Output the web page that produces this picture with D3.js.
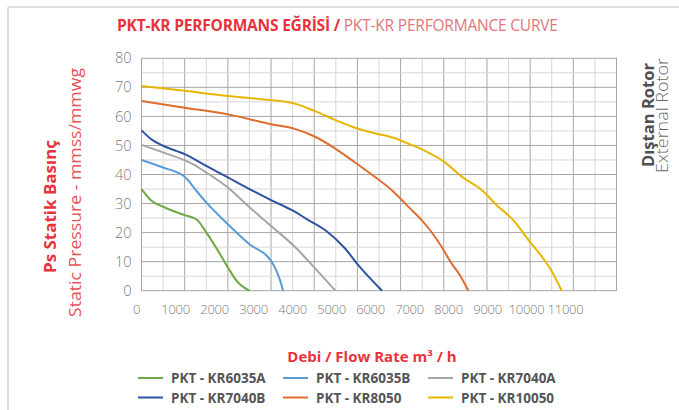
<!DOCTYPE html>
<html>
<head>
<meta charset="utf-8">
<script src="https://cdn.jsdelivr.net/npm/d3@7"></script>
<style>
  body { margin: 0; background: #fff; }
  text { font-family: "Open Sans", "Noto Sans", sans-serif; }
</style>
</head>
<body>
<div id="chart"></div>
<script>
// flow rate (m3/h) and static pressure (mmwg)
const series = ['PKT - KR6035A', 'PKT - KR6035B', 'PKT - KR7040A', 'PKT - KR7040B', 'PKT - KR8050', 'PKT - KR10050'];
const colors = ['#6fa845', '#5b9bd5', '#a5a5a5', '#2f53a0', '#de6d2e', '#e8b500'];

const flowA = [0, 230, 500, 1000, 1270, 1500, 1770, 2000, 2230, 2500];
const pressA = [35, 31, 28.9, 26, 24.6, 20.1, 13.8, 8, 2.9, 0];

const flowB = [0, 500, 1000, 1270, 1500, 2000, 2500, 3000, 3120, 3200, 3280];
const pressB = [45, 42.4, 39.2, 34.4, 30.4, 22.9, 16, 10.3, 7, 4, 0];

const flowC = [0, 500, 1000, 1190, 1500, 2000, 2500, 3000, 3550, 4020, 4490];
const pressC = [50.2, 47.6, 44.9, 43.6, 40.7, 35.5, 28.7, 22.3, 15.1, 7.7, 0];

const flowD = [0, 230, 500, 1000, 1500, 2000, 2500, 3000, 3550, 3820, 4250, 4710, 5020, 5570];
const pressD = [55.2, 52.1, 49.9, 47, 43, 39, 35, 31.2, 27.2, 24.7, 20.9, 14.6, 8.8, 0];

const flowE = [0, 1000, 2000, 3000, 3550, 4020, 4480, 4940, 5400, 5790, 6200, 6450, 6680, 6950, 7180, 7370, 7570];
const pressE = [65.3, 63, 60.7, 57.3, 55.7, 53, 49, 44.2, 39.2, 34.7, 28.6, 24.9, 20.9, 15.1, 9.4, 5.4, 0];

const flowF = [0, 1000, 2000, 3000, 3550, 4020, 4480, 4980, 5400, 5870, 6250, 6600, 6990, 7450, 7880, 8220, 8610, 8990, 9230, 9460, 9730];
const pressF = [70.5, 68.8, 67, 65.6, 64.4, 61.8, 58.8, 55.9, 54.2, 52.5, 50.2, 47.9, 44.6, 38.9, 34.7, 29.5, 24.3, 16.9, 12.5, 7.7, 0];

const flows = [flowA, flowB, flowC, flowD, flowE, flowF];
const pressures = [pressA, pressB, pressC, pressD, pressE, pressF];

const xTicks = [0, 1000, 2000, 3000, 4000, 5000, 6000, 7000, 8000, 9000, 10000, 11000];
const yTicks = [0, 10, 20, 30, 40, 50, 60, 70, 80];

const W = 679, H = 410;
const plot = { left: 141.5, right: 616.5, top: 58.3, bottom: 290.7 };

const svg = d3.select('#chart').append('svg')
  .attr('width', W)
  .attr('height', H);

// page frame lines
svg.append('line').attr('x1', 8).attr('x2', W).attr('y1', 7).attr('y2', 7)
  .attr('stroke', '#d4d4d4').attr('stroke-width', 1.5);
svg.append('line').attr('x1', 8).attr('x2', 8).attr('y1', 7).attr('y2', H)
  .attr('stroke', '#d4d4d4').attr('stroke-width', 1.5);

const x = d3.scaleLinear().domain([0, 11000]).range([plot.left, plot.right]);
const y = d3.scaleLinear().domain([0, 80]).range([plot.bottom, plot.top]);
// tick labels in the original sit on a slightly narrower spacing than the grid
const xLab = d3.scaleLinear().domain([0, 11000]).range([136, 565]);

// grid
const grid = svg.append('g');
d3.range(500, 11000, 500).forEach(v => {
  grid.append('line')
    .attr('x1', x(v)).attr('x2', x(v)).attr('y1', plot.top).attr('y2', plot.bottom)
    .attr('stroke', v % 1000 === 0 ? '#a6a6a6' : '#d6d6d6').attr('stroke-width', 1);
});
d3.range(5, 80, 5).forEach(v => {
  grid.append('line')
    .attr('x1', plot.left).attr('x2', plot.right).attr('y1', y(v)).attr('y2', y(v))
    .attr('stroke', v % 10 === 0 ? '#a6a6a6' : '#d6d6d6').attr('stroke-width', 1);
});
grid.append('rect')
  .attr('x', plot.left).attr('y', plot.top)
  .attr('width', plot.right - plot.left).attr('height', plot.bottom - plot.top)
  .attr('fill', 'none').attr('stroke', '#a6a6a6').attr('stroke-width', 1);

// axes (labels only)
const yAxis = svg.append('g')
  .attr('transform', `translate(${plot.left - 10},0)`)
  .call(d3.axisLeft(y).tickValues(yTicks).tickSize(0).tickPadding(0));
yAxis.select('.domain').remove();
yAxis.selectAll('text')
  .attr('fill', '#7a7a7a').style('font-size', '14.5px').style('font-weight', 300);

const xAxis = svg.append('g')
  .attr('transform', `translate(0,${plot.bottom + 14})`)
  .call(d3.axisBottom(xLab).tickValues(xTicks).tickSize(0).tickPadding(0).tickFormat(d3.format('d')));
xAxis.select('.domain').remove();
xAxis.selectAll('text')
  .attr('fill', '#7a7a7a').style('font-size', '13px').style('font-weight', 300)
  .attr('letter-spacing', '-0.3');

// curves
const line = d3.line()
  .x(d => x(d[0]))
  .y(d => y(d[1]))
  .curve(d3.curveMonotoneX);

series.forEach((name, i) => {
  const pts = flows[i].map((f, j) => [f, pressures[i][j]]);
  svg.append('path')
    .datum(pts)
    .attr('fill', 'none')
    .attr('stroke', colors[i])
    .attr('stroke-width', 2)
    .attr('d', line);
});

// title
const title = svg.append('text')
  .attr('x', 117).attr('y', 31)
  .style('font-size', '15.5px');
title.append('tspan').text('PKT-KR PERFORMANS EĞRİSİ / ')
  .attr('fill', '#e8323c').style('font-weight', 700).attr('letter-spacing', '-0.2');
title.append('tspan').text('PKT-KR PERFORMANCE CURVE')
  .attr('fill', '#e0767c').style('font-weight', 400).attr('letter-spacing', '-0.2');

// y axis titles
svg.append('text')
  .attr('transform', 'translate(56,206.5) rotate(-90)')
  .attr('text-anchor', 'middle')
  .attr('fill', '#e8323c')
  .style('font-size', '16px').style('font-weight', 700)
  .attr('textLength', 133).attr('lengthAdjust', 'spacingAndGlyphs')
  .text('Ps Statik Basınç');
svg.append('text')
  .attr('transform', 'translate(81,192.5) rotate(-90)')
  .attr('text-anchor', 'middle')
  .attr('fill', '#e8505a')
  .style('font-size', '16.5px').style('font-weight', 400)
  .attr('textLength', 249).attr('lengthAdjust', 'spacingAndGlyphs')
  .text('Static Pressure - mmss/mmwg');

// right side titles
svg.append('text')
  .attr('transform', 'translate(654,115) rotate(-90)')
  .attr('text-anchor', 'middle')
  .attr('fill', '#505050')
  .style('font-size', '15.5px').style('font-weight', 700)
  .attr('textLength', 104).attr('lengthAdjust', 'spacingAndGlyphs')
  .text('Dıştan Rotor');
svg.append('text')
  .attr('transform', 'translate(668,115.5) rotate(-90)')
  .attr('text-anchor', 'middle')
  .attr('fill', '#6a6a6a')
  .style('font-size', '16px').style('font-weight', 300)
  .attr('textLength', 115).attr('lengthAdjust', 'spacingAndGlyphs')
  .text('External Rotor');

// x axis title
svg.append('text')
  .attr('x', 372).attr('y', 362)
  .attr('text-anchor', 'middle')
  .attr('fill', '#e8323c')
  .style('font-size', '15px').style('font-weight', 700)
  .text('Debi / Flow Rate m³ / h');

// legend
const legCols = [138, 283, 428];
const legRows = [378, 397.5];
series.forEach((name, i) => {
  const lx = legCols[i % 3];
  const ly = legRows[Math.floor(i / 3)];
  svg.append('line')
    .attr('x1', lx).attr('x2', lx + 25).attr('y1', ly).attr('y2', ly)
    .attr('stroke', colors[i]).attr('stroke-width', 2);
  svg.append('text')
    .attr('x', lx + 33).attr('y', ly + 5)
    .attr('fill', '#555')
    .style('font-size', '13.5px').style('font-weight', 700)
    .text(name);
});
</script>
</body>
</html>
